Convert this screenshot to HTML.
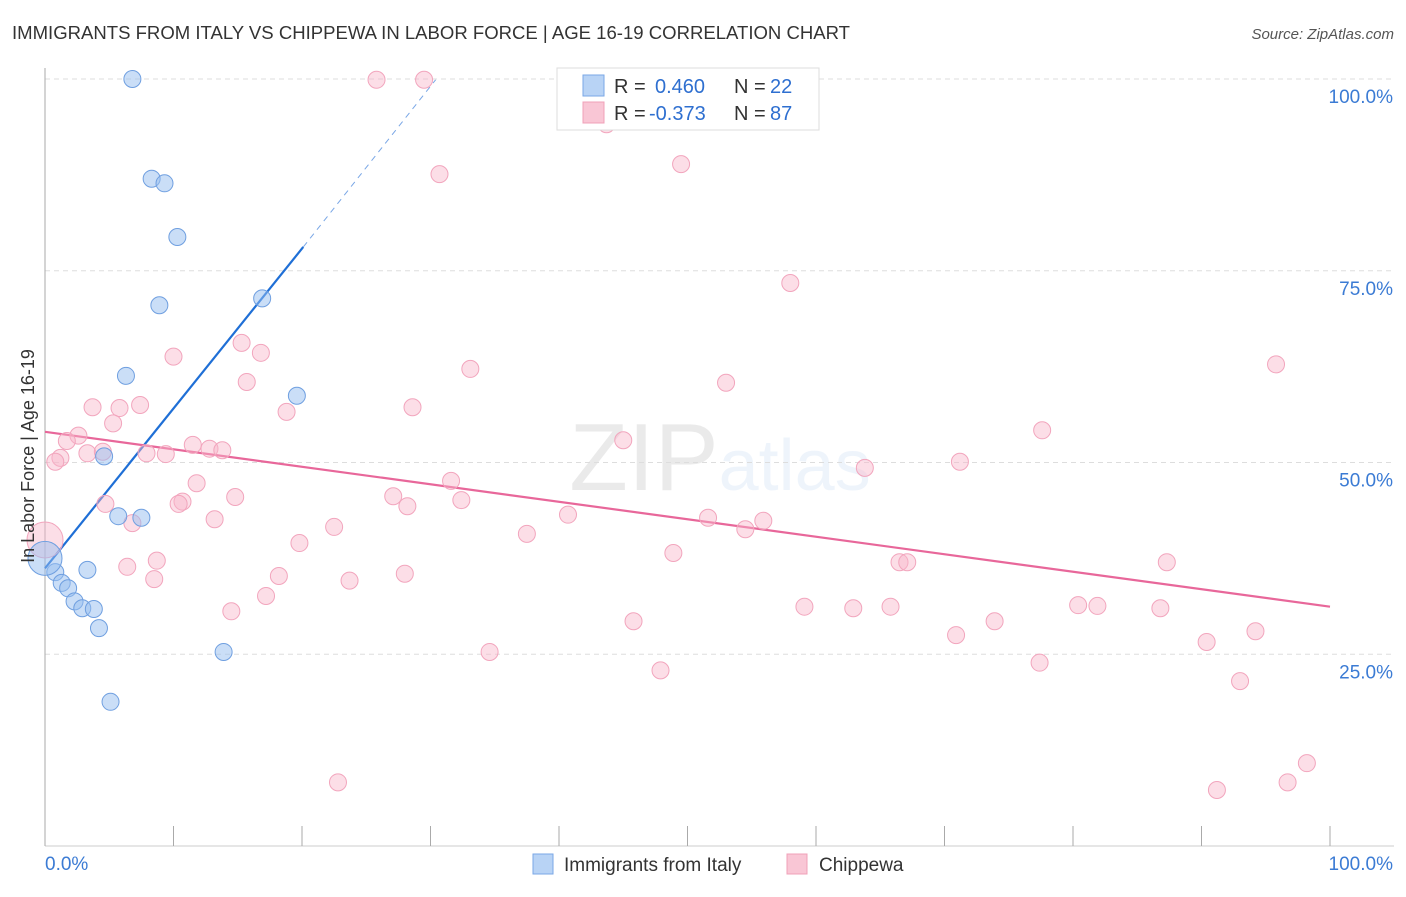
<!DOCTYPE html>
<html><head><meta charset="utf-8"><style>
body{margin:0;background:#fff;font-family:"Liberation Sans",sans-serif}
svg text{font-family:"Liberation Sans",sans-serif}
</style></head><body>
<svg id="chart" width="1406" height="892" viewBox="0 0 1406 892">
<text x="12" y="39" font-size="18" fill="#333" textLength="838" lengthAdjust="spacingAndGlyphs">IMMIGRANTS FROM ITALY VS CHIPPEWA IN LABOR FORCE | AGE 16-19 CORRELATION CHART</text>
<text x="1394" y="39" font-size="15" fill="#555" text-anchor="end" font-style="italic">Source: ZipAtlas.com</text>
<text x="720" y="490" font-size="96" text-anchor="middle" fill="#000" opacity="0.08" font-family="Liberation Serif">ZIP<tspan fill="#3b7fd6" opacity="1" font-family="Liberation Sans" font-size="72">atlas</tspan></text>
<g id="grid"></g><g id="axes"></g><g id="lines"></g><g id="points"></g>
<text transform="translate(34,456) rotate(-90)" font-size="18" fill="#333" text-anchor="middle">In Labor Force | Age 16-19</text>
<g>
<rect x="557" y="68" width="262" height="62" fill="#fff" stroke="#ddd"/>
<rect x="583" y="75" width="21" height="21" fill="#b8d3f5" stroke="#7aa7e6"/>
<rect x="583" y="102" width="21" height="21" fill="#f9c6d5" stroke="#f0a0b8"/>
<text x="614" y="93" font-size="20" fill="#333">R = </text><text x="655" y="93" font-size="20" fill="#2e6fd0">0.460</text>
<text x="734" y="93" font-size="20" fill="#333">N = </text><text x="770" y="93" font-size="20" fill="#2e6fd0">22</text>
<text x="614" y="120" font-size="20" fill="#333">R = </text><text x="649" y="120" font-size="20" fill="#2e6fd0">-0.373</text>
<text x="734" y="120" font-size="20" fill="#333">N = </text><text x="770" y="120" font-size="20" fill="#2e6fd0">87</text>
</g>
<g>
<rect x="533" y="854" width="20" height="20" fill="#b8d3f5" stroke="#7aa7e6"/>
<text x="564" y="871" font-size="19" fill="#333">Immigrants from Italy</text>
<rect x="787" y="854" width="20" height="20" fill="#f9c6d5" stroke="#f0a0b8"/>
<text x="819" y="871" font-size="19" fill="#333">Chippewa</text>
</g>
</svg>
<script>
const yTicks=[25,50,75,100];
const yTickLabels=["25.0%","50.0%","75.0%","100.0%"];
const xTicks=[0,10,20,30,40,50,60,70,80,90,100];
const italyX=[6.8,8.3,9.3,10.3,8.9,16.9,6.3,19.6,4.6,5.7,7.5,3.3,0.8,1.3,1.8,2.3,2.9,3.8,4.2,13.9,5.1,0];
const italyY=[100,87.0,86.4,79.4,70.5,71.4,61.3,58.7,50.8,43.0,42.8,36.0,35.7,34.3,33.6,31.9,31.0,30.9,28.4,25.3,18.8,37.5];
const chipX=[25.8,29.5,43.7,30.7,49.5,58.0,95.8,15.3,16.8,10.0,15.7,33.1,53.0,3.7,5.8,7.4,18.8,28.6,5.3,2.6,1.7,1.2,0.8,3.3,4.5,7.9,9.4,11.5,12.8,13.8,77.6,45.0,71.2,63.8,31.6,11.8,14.8,10.7,10.4,27.1,28.2,32.4,4.7,6.8,13.2,40.7,51.6,55.9,54.5,22.5,37.5,19.8,8.7,48.9,66.5,67.1,6.4,18.2,28.0,8.5,23.7,17.2,14.5,45.8,59.1,62.9,65.8,80.4,81.9,86.8,70.9,73.9,94.2,90.4,34.6,47.9,77.4,93.0,87.3,22.8,91.2,96.7,98.2,0];
const chipY=[99.9,99.9,94.1,87.6,88.9,73.4,62.8,65.6,64.3,63.8,60.5,62.2,60.4,57.2,57.1,57.5,56.6,57.2,55.1,53.5,52.8,50.6,50.1,51.2,51.4,51.2,51.1,52.3,51.8,51.6,54.2,52.9,50.1,49.3,47.6,47.3,45.5,44.9,44.6,45.6,44.3,45.1,44.6,42.1,42.6,43.2,42.8,42.4,41.3,41.6,40.7,39.5,37.2,38.2,37.0,37.0,36.4,35.2,35.5,34.8,34.6,32.6,30.6,29.3,31.2,31.0,31.2,31.4,31.3,31.0,27.5,29.3,28.0,26.6,25.3,22.9,23.9,21.5,37.0,8.3,7.3,8.3,10.8,39.9];
const italyTrend=[[0,36.2],[20.1,78.1]];
const italyTrendExt=[[20.1,78.1],[30.4,99.9]];
const chipTrend=[[0,54.0],[100,31.2]];

const NS="http://www.w3.org/2000/svg";
const sx=v=>45+v*12.85, sy=v=>846-v*7.67;
function mk(tag,attrs,parent){const e=document.createElementNS(NS,tag);for(const k in attrs)e.setAttribute(k,attrs[k]);document.getElementById(parent).appendChild(e);return e;}
yTicks.forEach((t,i)=>{
  const g=mk('line',{x1:45,x2:1394,y1:sy(t),y2:sy(t),stroke:'#ddd','stroke-dasharray':'5,4'},'grid');
  
  
  const l=mk('text',{x:1393,y:sy(t)+24,'font-size':19,fill:'#3b7bd4','text-anchor':'end'},'axes');
  l.textContent=yTickLabels[i];
  
  
});
const ya=mk('line',{x1:45,x2:45,y1:68,y2:846,stroke:'#aaa'},'axes');


const xa=mk('line',{x1:45,x2:1394,y1:846,y2:846,stroke:'#ccc'},'axes');


xTicks.forEach(t=>{
  const tk=mk('line',{x1:sx(t),x2:sx(t),y1:826,y2:846,stroke:'#aaa'},'axes');
  
  
});
const x0=mk('text',{x:45,y:870,'font-size':19,fill:'#3b7bd4'},'axes');x0.textContent='0.0%';


const x1=mk('text',{x:1393,y:870,'font-size':19,fill:'#3b7bd4','text-anchor':'end'},'axes');x1.textContent='100.0%';



chipX.forEach((x,i)=>{
  const big=(i===chipX.length-1);
  const c=mk('circle',{cx:sx(x),cy:sy(chipY[i]),r:big?18:8.5,fill:'rgba(248,182,202,0.45)',stroke:'#f2a5bd','stroke-width':1},'points');
  
  
});
italyX.forEach((x,i)=>{
  const big=(i===italyX.length-1);
  const c=mk('circle',{cx:sx(x),cy:sy(italyY[i]),r:big?17:8.5,fill:'rgba(150,190,240,0.5)',stroke:'#6f9fe0','stroke-width':1},'points');
  
  
});
const bl=mk('line',{x1:sx(italyTrend[0][0]),y1:sy(italyTrend[0][1]),x2:sx(italyTrend[1][0]),y2:sy(italyTrend[1][1]),stroke:'#1f6fd6','stroke-width':2.2},'lines');


const bd=mk('line',{x1:sx(italyTrendExt[0][0]),y1:sy(italyTrendExt[0][1]),x2:sx(italyTrendExt[1][0]),y2:sy(italyTrendExt[1][1]),stroke:'#7aa7e6','stroke-width':1,'stroke-dasharray':'6,5'},'lines');


const pl=mk('line',{x1:sx(chipTrend[0][0]),y1:sy(chipTrend[0][1]),x2:sx(chipTrend[1][0]),y2:sy(chipTrend[1][1]),stroke:'#e8679a','stroke-width':2.2},'lines');


</script>
</body></html>
